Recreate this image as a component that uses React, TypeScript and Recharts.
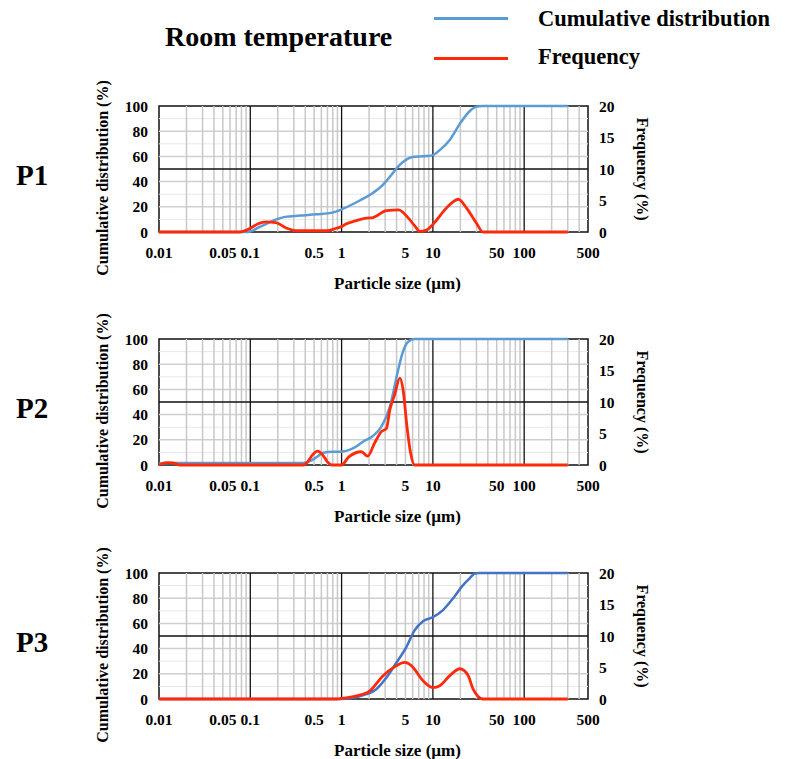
import React from 'react';
import { LineChart, Line, XAxis, YAxis, ReferenceLine, ReferenceArea } from 'recharts';

const serif = '"Liberation Serif", "Times New Roman", serif';

// x ticks (particle size, µm) and y ticks
const sizeTicks = [0.01, 0.05, 0.1, 0.5, 1, 5, 10, 50, 100, 500];
const cumTicks = [0, 20, 40, 60, 80, 100];
const freqTicks = [0, 5, 10, 15, 20];

// P1
const p1CumSize = [0.01, 0.094, 0.127, 0.178, 0.24, 0.35, 0.53, 0.81, 1.04, 1.58, 2.2, 2.8, 3.4, 4.0, 4.7, 5.4, 6.3, 7.2, 8.5, 10, 11.9, 15.3, 19.8, 25.4, 30, 35, 300];
const p1Cum = [0, 0, 4, 9, 12, 13, 14, 15.6, 18.5, 25, 31, 37, 44, 50.5, 55.5, 58.5, 59.7, 60, 60.3, 61, 65, 73, 86, 96, 99.5, 100, 100];
const p1FreqSize = [0.01, 0.077, 0.091, 0.127, 0.15, 0.19, 0.25, 0.32, 0.5, 0.68, 0.88, 1.0, 1.13, 1.3, 1.86, 2.2, 3.1, 4.2, 5.4, 6.3, 7.2, 8.5, 11, 12.9, 16, 19, 23.4, 30, 35.4, 300];
const p1Freq = [0, 0, 0.3, 1.4, 1.6, 1.5, 0.6, 0.2, 0.2, 0.2, 0.6, 0.85, 1.3, 1.6, 2.2, 2.3, 3.4, 3.5, 2.2, 1.0, 0.1, 0.3, 1.9, 3.2, 4.6, 5.2, 3.8, 1.4, 0, 0];

// P2
const p2CumSize = [0.01, 0.013, 0.38, 0.45, 0.55, 0.63, 0.8, 1.0, 1.34, 1.72, 2.2, 2.73, 3.37, 4.17, 4.65, 5.4, 6.3, 300];
const p2Cum = [1.2, 1.5, 1.5, 3, 7, 9.8, 10.5, 10.6, 13.3, 18.5, 23, 30.5, 46, 75.6, 89, 98, 100, 100];
const p2FreqSize = [0.01, 0.012, 0.014, 0.017, 0.38, 0.42, 0.48, 0.545, 0.62, 0.7, 0.78, 1.0, 1.2, 1.65, 1.93, 2.3, 2.73, 3.1, 3.37, 3.8, 4.35, 4.72, 5.2, 5.7, 6.3, 300];
const p2Freq = [0, 0.37, 0.35, 0, 0, 0.4, 1.6, 2.2, 1.6, 0.5, 0, 0, 1.3, 2.1, 1.4, 3.5, 5.3, 5.8, 8.7, 11.1, 13.8, 11.9, 6.1, 1.9, 0, 0];

// P3
const p3CumSize = [0.01, 1.0, 1.23, 1.87, 2.4, 3.1, 4.0, 5.1, 6.3, 7.8, 10, 12.9, 16.7, 20.6, 25.4, 28.8, 32, 300];
const p3Cum = [0, 0, 0.5, 3.8, 7.8, 17, 29, 41, 54.5, 61.7, 65, 70.6, 80, 89, 96, 99.6, 100, 100];
const p3FreqSize = [0.01, 0.9, 1.0, 1.46, 2.04, 2.85, 3.8, 4.93, 5.8, 7.8, 10.1, 11.9, 15.3, 19.8, 24.4, 27.5, 35.4, 300];
const p3Freq = [0, 0, 0.1, 0.5, 1.3, 3.7, 5.1, 5.8, 5.3, 2.9, 1.8, 2.1, 3.7, 4.8, 3.7, 1.6, 0, 0];

const zip = (xs: number[], ys: number[]) => xs.map((x, i) => ({ x, v: ys[i] }));

const majorX = [0.1, 1, 10, 100];
const minorX: number[] = [];
[0.01, 0.1, 1, 10, 100].forEach((d) => {
  for (let k = 2; k <= 9; k++) if (k * d < 500) minorX.push(Number((k * d).toPrecision(3)));
});
const gridY = [20, 40, 60, 80];
const faintY = [10, 30, 70, 90];

const tickStyle = { fontSize: 15.5, fontWeight: 'bold', fill: '#000', fontFamily: serif };

const textBase: React.CSSProperties = {
  position: 'absolute',
  fontFamily: serif,
  fontWeight: 'bold',
  color: '#000',
  whiteSpace: 'nowrap',
  lineHeight: 1,
};

type PanelProps = {
  top: number;
  label: string;
  cum: { x: number; v: number }[];
  freq: { x: number; v: number }[];
  blue: string;
};

const MT = 10;
const PLOT_H = 126;

const Panel = ({ top, label, cum, freq, blue }: PanelProps) => {
  const plotTop = top + MT;
  const plotMid = plotTop + PLOT_H / 2;
  return (
    <>
      <div style={{ position: 'absolute', left: 0, top }}>
        <LineChart width={796} height={206} margin={{ top: MT, right: 138, bottom: 5, left: 90 }}>
          <XAxis
            dataKey="x"
            type="number"
            scale="log"
            domain={[0.01, 500]}
            ticks={sizeTicks}
            allowDataOverflow
            axisLine={false}
            tickLine={false}
            tickMargin={9}
            height={65}
            interval={0}
            tick={tickStyle}
          />
          <YAxis
            yAxisId="left"
            domain={[0, 100]}
            ticks={cumTicks}
            axisLine={false}
            tickLine={false}
            tickMargin={5}
            width={69}
            tick={tickStyle}
          />
          <YAxis
            yAxisId="right"
            orientation="right"
            domain={[0, 20]}
            ticks={freqTicks}
            axisLine={false}
            tickLine={false}
            tickMargin={5}
            width={70}
            tick={{ ...tickStyle, textAnchor: 'start' }}
          />
          {faintY.map((y) => (
            <ReferenceLine key={'fy' + y} yAxisId="left" y={y} stroke="#e8e8e8" strokeWidth={1} />
          ))}
          {gridY.map((y) => (
            <ReferenceLine key={'gy' + y} yAxisId="left" y={y} stroke="#cfcfcf" strokeWidth={1.5} />
          ))}
          {minorX.map((x) => (
            <ReferenceLine key={'mx' + x} yAxisId="left" x={x} stroke="#c8c8c8" strokeWidth={1.5} />
          ))}
          {majorX.map((x) => (
            <ReferenceLine key={'Mx' + x} yAxisId="left" x={x} stroke="#111" strokeWidth={1.3} />
          ))}
          <ReferenceLine yAxisId="left" y={50} stroke="#111" strokeWidth={1.3} />
          <ReferenceArea
            yAxisId="left"
            x1={0.01}
            x2={500}
            y1={0}
            y2={100}
            fill="none"
            fillOpacity={0}
            stroke="#111"
            strokeWidth={1.5}
          />
          <Line
            yAxisId="left"
            data={cum}
            dataKey="v"
            type="monotone"
            stroke={blue}
            strokeWidth={2.5}
            dot={false}
            isAnimationActive={false}
          />
          <Line
            yAxisId="right"
            data={freq}
            dataKey="v"
            type="monotone"
            stroke="#ff2a0a"
            strokeWidth={2.8}
            dot={false}
            isAnimationActive={false}
          />
        </LineChart>
      </div>
      <div style={{ ...textBase, fontSize: 29, left: 16, top: plotMid + 6, transform: 'translateY(-50%)' }}>{label}</div>
      <div
        style={{
          ...textBase,
          fontSize: 16,
          left: 102.5,
          top: plotMid + 8.5,
          transform: 'translate(-50%, -50%) rotate(-90deg)',
        }}
      >
        Cumulative distribution (%)
      </div>
      <div
        style={{
          ...textBase,
          fontSize: 16,
          left: 642,
          top: plotMid,
          transform: 'translate(-50%, -50%) rotate(90deg)',
        }}
      >
        Frequency (%)
      </div>
      <div
        style={{
          ...textBase,
          fontSize: 17,
          left: 397.5,
          top: plotTop + PLOT_H + 51,
          transform: 'translate(-50%, -50%)',
        }}
      >
        Particle size (µm)
      </div>
    </>
  );
};

const App = () => (
  <div style={{ position: 'absolute', left: 0, top: 0, width: 796, height: 759, background: '#fff', overflow: 'hidden' }}>
    <div style={{ ...textBase, fontSize: 28, left: 165, top: 23 }}>Room temperature</div>
    <div style={{ position: 'absolute', left: 434, top: 17, width: 74, height: 2.5, background: '#5b9bd5' }} />
    <div style={{ ...textBase, fontSize: 22.5, left: 538, top: 8 }}>Cumulative distribution</div>
    <div style={{ position: 'absolute', left: 434, top: 57, width: 74, height: 2.5, background: '#ff2a0a' }} />
    <div style={{ ...textBase, fontSize: 22.5, left: 538, top: 46 }}>Frequency</div>
    <Panel top={96} label="P1" cum={zip(p1CumSize, p1Cum)} freq={zip(p1FreqSize, p1Freq)} blue="#5b9bd5" />
    <Panel top={329} label="P2" cum={zip(p2CumSize, p2Cum)} freq={zip(p2FreqSize, p2Freq)} blue="#5b9bd5" />
    <Panel top={563} label="P3" cum={zip(p3CumSize, p3Cum)} freq={zip(p3FreqSize, p3Freq)} blue="#4472c4" />
  </div>
);

export default App;
